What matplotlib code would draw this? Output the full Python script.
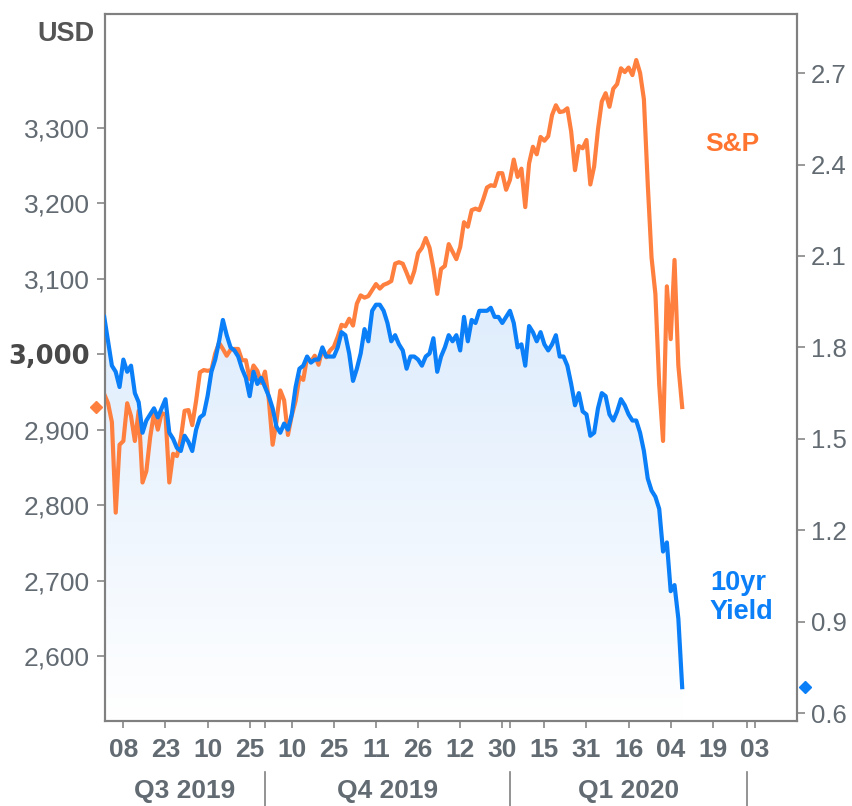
import numpy as np
import pandas as pd
import matplotlib
matplotlib.use('Agg')
from matplotlib import pyplot as plt
from matplotlib import transforms as mtransforms
from matplotlib.colors import LinearSegmentedColormap

# NYSE trading days from 1 Aug 2019, holidays removed
days = pd.bdate_range('2019-08-01', '2020-04-30')
holidays = pd.to_datetime(['2019-09-02', '2019-11-28', '2019-12-25', '2020-01-01',
                           '2020-01-20', '2020-02-17', '2020-04-10'])
days = days[~days.isin(holidays)]

# first value = level at the start of 1 Aug, then one reading per trading day (to 6 Mar 2020)
spx = [2947,
       # Aug
       2935, 2910, 2790, 2880, 2885, 2935, 2918, 2885, 2925, 2830, 2845, 2890, 2922, 2900,
       2922, 2920, 2830, 2868, 2865, 2888, 2925, 2926,
       # Sep
       2906, 2938, 2976, 2979, 2978, 2979, 3001, 3015, 3007, 2998, 3006, 3007, 3007, 2992,
       2992, 2967, 2985, 2978, 2962, 2977,
       # Oct
       2940, 2880, 2911, 2952, 2939, 2893, 2919, 2938, 2970, 2966, 2996, 2990, 2998, 2986,
       3007, 2996, 3005, 3010, 3023, 3039, 3037, 3047, 3038,
       # Nov
       3067, 3078, 3075, 3077, 3085, 3093, 3087, 3092, 3094, 3097, 3120, 3122, 3120, 3108,
       3095, 3110, 3134, 3141, 3154, 3141,
       # Dec
       3114, 3080, 3113, 3117, 3146, 3136, 3126, 3142, 3175, 3169, 3191, 3193, 3191, 3205,
       3221, 3224, 3223, 3240, 3240, 3218, 3231,
       # Jan
       3258, 3235, 3246, 3195, 3253, 3275, 3265, 3288, 3283, 3289, 3317, 3330, 3321, 3322,
       3326, 3295, 3244, 3276, 3273, 3284, 3225,
       # Feb
       3249, 3298, 3335, 3346, 3328, 3352, 3358, 3379, 3374, 3380, 3370, 3390, 3373, 3338,
       3226, 3128, 3080, 2960, 2885,
       # Mar
       3090, 3020, 3125, 2985, 2930]

yld = [1.90,
       # Aug
       1.82, 1.74, 1.72, 1.67, 1.76, 1.72, 1.74, 1.65, 1.62, 1.52, 1.56, 1.58, 1.60, 1.57,
       1.60, 1.63, 1.52, 1.50, 1.47, 1.46, 1.51, 1.49,
       # Sep
       1.46, 1.53, 1.57, 1.58, 1.64, 1.72, 1.76, 1.82, 1.89, 1.84, 1.80, 1.79, 1.77, 1.73,
       1.70, 1.64, 1.72, 1.68, 1.70, 1.67,
       # Oct
       1.64, 1.60, 1.54, 1.52, 1.55, 1.53, 1.58, 1.67, 1.73, 1.74, 1.77, 1.75, 1.76, 1.76,
       1.80, 1.77, 1.77, 1.77, 1.80, 1.85, 1.84, 1.78, 1.69,
       # Nov
       1.73, 1.78, 1.86, 1.82, 1.92, 1.94, 1.94, 1.92, 1.88, 1.82, 1.84, 1.81, 1.79, 1.73,
       1.77, 1.77, 1.76, 1.74, 1.77, 1.78,
       # Dec
       1.83, 1.72, 1.77, 1.80, 1.84, 1.82, 1.84, 1.79, 1.90, 1.82, 1.89, 1.88, 1.92, 1.92,
       1.92, 1.93, 1.90, 1.90, 1.88, 1.90, 1.92,
       # Jan
       1.88, 1.80, 1.81, 1.74, 1.87, 1.85, 1.82, 1.85, 1.81, 1.79, 1.81, 1.84, 1.77, 1.77,
       1.74, 1.68, 1.61, 1.65, 1.59, 1.58, 1.51,
       # Feb
       1.52, 1.60, 1.65, 1.64, 1.58, 1.56, 1.59, 1.63, 1.61, 1.58, 1.56, 1.56, 1.52, 1.46,
       1.37, 1.33, 1.31, 1.27, 1.13,
       # Mar
       1.16, 1.00, 1.02, 0.91, 0.685]

tick_labels = ['08', '23', '10', '25', '10', '25', '11', '26', '12', '30',
               '15', '31', '16', '04', '19', '03']
quarters = ['Q3 2019', 'Q4 2019', 'Q1 2020']
quarter_starts = ['2019-10-01', '2020-01-02', '2020-04-01']
spx_ticks = [2600, 2700, 2800, 2900, 3000, 3100, 3200, 3300]
yld_ticks = [0.6, 0.9, 1.2, 1.5, 1.8, 2.1, 2.4, 2.7]

ORANGE = '#ff7f3f'
BLUE = '#0a7ff8'
GREY = '#626a72'
FONT = 'Liberation Sans'

x = np.arange(len(spx))
pos = {d: i for i, d in enumerate(days)}
qpos = [pos[pd.Timestamp(d)] for d in quarter_starts]

fig = plt.figure(figsize=(8.53, 8.06), dpi=100)
ax = fig.add_axes([105 / 853, 85 / 806, 692 / 853, 707 / 806])
ax2 = ax.twinx()

# gradient fill under the yield line (kept below the S&P line)
fill = ax.fill_between(x, yld, 0.0, transform=ax2.transData,
                       facecolor='none', edgecolor='none')
cmap = LinearSegmentedColormap.from_list('fill', ['#ffffff', '#e3effd', '#cfe4fb'])
grad = np.linspace(0, 1, 256).reshape(-1, 1)
im = ax.imshow(grad, extent=[0, 1, 0, 1], transform=ax.transAxes, origin='lower',
               aspect='auto', cmap=cmap, zorder=0)
im.set_clip_path(fill.get_paths()[0], ax2.transData)

ax.plot(x, spx, color=ORANGE, lw=3.0, zorder=2)
ax2.plot(x, yld, color=BLUE, lw=3.0, zorder=3)

ax.set_xlim(0.2, 181.0)
ax.set_ylim(2513.8, 3451)
ax2.set_ylim(0.574, 2.894)

# x axis: one tick every 11 trading days
ax.set_xticks(np.arange(5, 171, 11))
ax.set_xticklabels(tick_labels, fontsize=19, fontweight='bold', color=GREY, family=FONT)
ax.set_xticks(qpos, minor=True)
ax.tick_params(axis='x', which='both', length=5, width=1.2, color='#888888', pad=7)

ax.set_yticks(spx_ticks)
ax.set_yticklabels([f'{v:,}' for v in spx_ticks], fontsize=19, color=GREY, family=FONT)
ax.tick_params(axis='y', length=6, width=1.2, color='#888888', pad=5)
for lab in ax.get_yticklabels():
    if lab.get_text() == '3,000':
        lab.set_fontweight('bold')
        lab.set_color('#484848')
        lab.set_family('DejaVu Sans')
        lab.set_fontsize(18.5)

ax2.set_yticks(yld_ticks)
ax2.set_yticklabels([f'{v:.1f}' for v in yld_ticks], fontsize=18.5, color=GREY, family=FONT)
ax2.tick_params(axis='y', length=6, width=1.2, color='#888888', pad=4)

for a in (ax, ax2):
    for s in a.spines.values():
        s.set_color('#808080')
        s.set_linewidth(1.5)

# quarter labels and separators under the day ticks
blend = mtransforms.blended_transform_factory(ax.transData, ax.transAxes)
edges = [ax.get_xlim()[0]] + qpos
for i, q in enumerate(quarters):
    ax.text((edges[i] + edges[i + 1]) / 2, -0.099, q, transform=blend, ha='center',
            va='center', fontsize=19, fontweight='bold', color=GREY, family=FONT)
for q in qpos:
    ax.plot([q, q], [-0.072, -0.125], transform=blend, color='#808080', lw=1.2,
            clip_on=False)

fig.text(95 / 853, 1 - 34 / 806, 'USD', ha='right', va='center', fontsize=19.5,
         fontweight='bold', color='#555555', family=FONT)

# last-value markers outside the plot
ax.plot([-0.013], [spx[-1]], marker='D', ms=6, color=ORANGE, clip_on=False,
        transform=mtransforms.blended_transform_factory(ax.transAxes, ax.transData))
ax2.plot([1.012], [yld[-1]], marker='D', ms=6, color=BLUE, clip_on=False,
         transform=mtransforms.blended_transform_factory(ax2.transAxes, ax2.transData))

ax.text(0.867, 0.816, 'S&P', transform=ax.transAxes, fontsize=19, fontweight='bold',
        color='#ff7530', ha='left', va='center', family=FONT)
ax.text(0.874, 0.175, '10yr\nYield', transform=ax.transAxes, fontsize=19.5,
        fontweight='bold', color=BLUE, ha='left', va='center', linespacing=1.15,
        family=FONT)

fig.savefig('out.png', dpi=100)
